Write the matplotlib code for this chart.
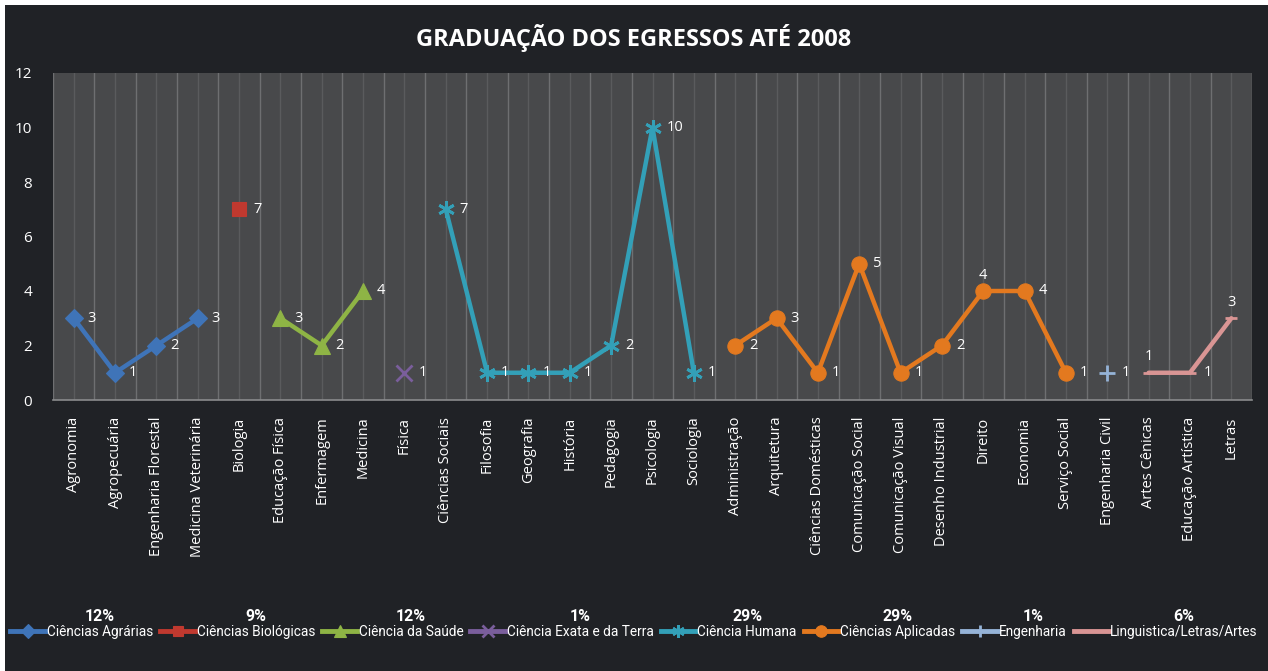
import numpy as np
import matplotlib
matplotlib.use('Agg')
import matplotlib.pyplot as plt
from matplotlib.lines import Line2D
from matplotlib.patches import Rectangle

plt.rcParams['font.family'] = ['Open Sans', 'DejaVu Sans']

# categories per group, in the order they appear along the x axis
groups = ['Ciências Agrárias', 'Ciências Biológicas', 'Ciência da Saúde',
          'Ciência Exata e da Terra', 'Ciência Humana', 'Ciências Aplicadas',
          'Engenharia', 'Linguistica/Letras/Artes']
group_pct = ['12%', '9%', '12%', '1%', '29%', '29%', '1%', '6%']

agrarias_cursos = ['Agronomia', 'Agropecuária', 'Engenharia Florestal', 'Medicina Veterinária']
agrarias_vals = [3, 1, 2, 3]
biologicas_cursos = ['Biologia']
biologicas_vals = [7]
saude_cursos = ['Educação Física', 'Enfermagem', 'Medicina']
saude_vals = [3, 2, 4]
exata_cursos = ['Física']
exata_vals = [1]
humana_cursos = ['Ciências Sociais', 'Filosofia', 'Geografia', 'História',
                 'Pedagogia', 'Psicologia', 'Sociologia']
humana_vals = [7, 1, 1, 1, 2, 10, 1]
aplicadas_cursos = ['Administração', 'Arquitetura', 'Ciências Domésticas',
                    'Comunicação Social', 'Comunicação Visual', 'Desenho Industrial',
                    'Direito', 'Economia', 'Serviço Social']
aplicadas_vals = [2, 3, 1, 5, 1, 2, 4, 4, 1]
engenharia_cursos = ['Engenharia Civil']
engenharia_vals = [1]
letras_cursos = ['Artes Cênicas', 'Educação Artística', 'Letras']
letras_vals = [1, 1, 3]

series = [
    (agrarias_cursos, agrarias_vals, '#3f74b8', 'D', 9.5),
    (biologicas_cursos, biologicas_vals, '#c0392f', 's', 10),
    (saude_cursos, saude_vals, '#8eb445', '^', 11),
    (exata_cursos, exata_vals, '#7a5e9c', 'x', 11),
    (humana_cursos, humana_vals, '#33a0b8', (6, 2, 0), 12),
    (aplicadas_cursos, aplicadas_vals, '#e3791f', 'o', 11),
    (engenharia_cursos, engenharia_vals, '#95b3d7', '+', 12),
    (letras_cursos, letras_vals, '#d99594', '_', 8),
]

# labels drawn above the point instead of to the right
above = {'Direito', 'Artes Cênicas', 'Letras'}

all_cursos = [c for s in series for c in s[0]]

fig = plt.figure(figsize=(12.68, 6.71), dpi=100)
fig.patch.set_facecolor('white')
fig.patches.append(Rectangle((5 / 1268, 0), 1, 1 - 5 / 671, transform=fig.transFigure,
                             facecolor='#202226', edgecolor='none', zorder=-10))

ax = fig.add_axes([53 / 1268, 1 - 400 / 671, 1199 / 1268, 327 / 671])
ax.set_facecolor('#48494b')

n = len(all_cursos)
for k in range(2 * n + 1):
    xv = -0.5 + k * 0.5
    col = '#6e6f71' if k % 2 == 0 else '#5a5b5d'
    ax.axvline(xv, color=col, lw=1.0, zorder=0)

handles = []
start = 0
for cursos, vals, color, mk, ms in series:
    xs = np.arange(start, start + len(cursos))
    mew = 2.0 if mk in ('x', '+', '_') or isinstance(mk, tuple) else 0.8
    ax.plot(xs, vals, color=color, lw=3.2, marker=mk, ms=ms, mfc=color,
            mec=color, mew=mew, zorder=3, solid_capstyle='round')
    for xi, c, v in zip(xs, cursos, vals):
        if c in above:
            ax.annotate(str(v), (xi, v), xytext=(0, 6), textcoords='offset points',
                        ha='center', va='bottom', color='white', fontsize=10.5)
        else:
            ax.annotate(str(v), (xi, v), xytext=(10, 0), textcoords='offset points',
                        ha='left', va='center', color='white', fontsize=10.5)
    handles.append(Line2D([], [], color=color, lw=3.5, marker=mk, ms=ms * 0.75,
                          mfc=color, mec=color, mew=mew))
    start += len(cursos)

ax.set_xlim(-0.5, n - 0.5)
ax.set_ylim(0, 12)
ax.set_yticks(range(0, 13, 2))
ax.set_xticks(range(n))
ax.set_xticklabels(all_cursos, rotation=90, color='white', fontsize=10.5)
ax.tick_params(axis='y', colors='white', labelsize=11, length=0, pad=15)
ax.tick_params(axis='x', length=0, pad=12)
for side in ['top', 'right', 'left']:
    ax.spines[side].set_visible(False)
ax.spines['bottom'].set_color('#8a8b8d')
ax.spines['bottom'].set_linewidth(1.2)

fig.text(0.5, 1 - 38 / 671, 'GRADUAÇÃO DOS EGRESSOS ATÉ 2008', ha='center', va='center',
         color='white', fontsize=17, fontweight='bold')

leg = fig.legend(handles, groups, loc='center', bbox_to_anchor=(0.5, 1 - 632 / 671),
                 ncol=8, frameon=False, handlelength=2.6, handletextpad=0.1,
                 columnspacing=0.5, prop={'family': ['Roboto', 'DejaVu Sans'],
                                          'size': 9.8})
for t in leg.get_texts():
    t.set_color('white')

fig.canvas.draw()
inv = fig.transFigure.inverted()
for t, pct in zip(leg.get_texts(), group_pct):
    bb = t.get_window_extent()
    (x0, y0), (x1, y1) = inv.transform([(bb.x0, bb.y0), (bb.x1, bb.y1)])
    fig.text((x0 + x1) / 2, y1 + 0.001, pct, ha='center', va='bottom', color='white',
             fontsize=11.5, fontweight='bold', family=['Roboto', 'DejaVu Sans'])

fig.savefig('out.png', dpi=100, facecolor=fig.get_facecolor())
